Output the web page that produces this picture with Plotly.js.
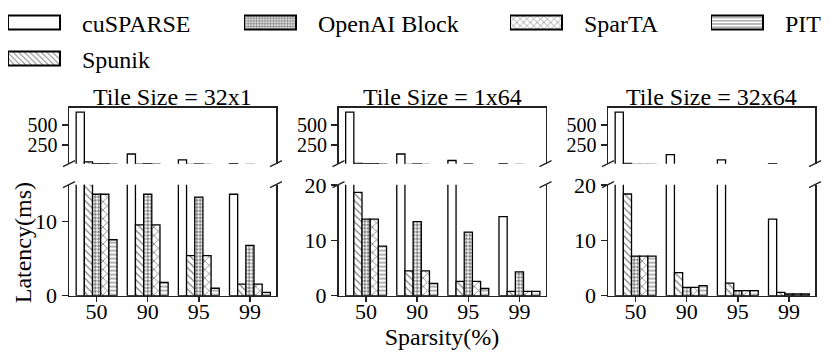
<!DOCTYPE html>
<html>
<head>
<meta charset="utf-8">
<script src="https://cdn.plot.ly/plotly-3.0.1.min.js"></script>
<style>
  html, body { margin: 0; padding: 0; background: #fff; }
  #chart { width: 830px; height: 353px; }
</style>
</head>
<body>
<div id="chart"></div>
<script>
// x軸のカテゴリ（スパース率）
const sparsity = ["50", "90", "95", "99"];
// パネル（タイルサイズ）
const tileSizes = ["32x1", "1x64", "32x64"];

// 各系列の値（パネル順: 32x1, 1x64, 32x64）
const cuSPARSE = [
  [665, 137, 62, 13.7],
  [665, 137, 55, 14.3],
  [665, 130, 62, 13.85]
];
const spunik = [
  [38, 9.55, 5.4, 1.55],
  [18.7, 4.48, 2.57, 0.78],
  [18.4, 4.18, 2.27, 0.6]
];
const openAIBlock = [
  [13.7, 13.7, 13.3, 6.8],
  [13.85, 13.4, 11.5, 4.3],
  [7.17, 1.5, 0.9, 0.3]
];
const sparTA = [
  [13.7, 9.55, 5.4, 1.55],
  [13.85, 4.48, 2.57, 0.78],
  [7.17, 1.5, 0.9, 0.3]
];
const pit = [
  [7.55, 1.78, 1.0, 0.45],
  [8.96, 2.2, 1.3, 0.78],
  [7.17, 1.8, 0.9, 0.3]
];

// 縦軸の範囲（上段は共通、下段はパネルごと）
const topRange = [15, 720];
const bottomMax = [15, 20.1, 20.1];

const W = 830, H = 353;
const FONT = "'Liberation Serif', 'Times New Roman', serif";
const LINE = "#222";

// 系列ごとの見た目（グループ内の並び順）
const series = [
  { name: "cuSPARSE", values: cuSPARSE, legend: "legend", pattern: { shape: "" } },
  { name: "Spunik", values: spunik, legend: "legend5", pattern: { shape: "\\", size: 5, solidity: 0.25 } },
  { name: "OpenAI Block", values: openAIBlock, legend: "legend2", pattern: { shape: ".", size: 3.5, solidity: 0.55 } },
  { name: "SparTA", values: sparTA, legend: "legend3", pattern: { shape: "x", size: 6, solidity: 0.25 } },
  { name: "PIT", values: pit, legend: "legend4", pattern: { shape: "-", size: 4, solidity: 0.3 } }
];

// パネルの位置（ピクセル）
const colPx = [[69, 276], [338.5, 545.5], [608, 815]];
const topPx = [105, 161.5];
const botPx = [182.7, 295];

function xd(p) { return [p[0] / W, p[1] / W]; }
function yd(p) { return [1 - p[1] / H, 1 - p[0] / H]; }

const data = [];
series.forEach((s) => {
  for (let p = 0; p < 3; p++) {
    [p + 1, p + 4].forEach((k, j) => {
      data.push({
        type: "bar",
        x: sparsity,
        y: s.values[p],
        name: s.name,
        xaxis: "x" + (k === 1 ? "" : k),
        yaxis: "y" + (k === 1 ? "" : k),
        legend: s.legend,
        showlegend: p === 0 && j === 0,
        marker: {
          color: "#fff",
          line: { color: "#000", width: 1.3 },
          pattern: Object.assign({ fgcolor: "#000", bgcolor: "#fff", fillmode: "overlay" }, s.pattern)
        },
        hoverinfo: "skip"
      });
    });
  }
});

const tickFont = { family: FONT, size: 22, color: "#000" };
const topTickFont = { family: FONT, size: 20, color: "#000" };

const layout = {
  width: W,
  height: H,
  margin: { l: 0, r: 0, t: 0, b: 0 },
  paper_bgcolor: "#fff",
  plot_bgcolor: "rgba(0,0,0,0)",
  barmode: "group",
  bargap: 0.2,
  bargroupgap: 0,
  font: { family: FONT, size: 24, color: "#000" },
  annotations: [],
  shapes: []
};

for (let p = 0; p < 3; p++) {
  const t = p + 1, b = p + 4;
  const tx = "xaxis" + (t === 1 ? "" : t), ty = "yaxis" + (t === 1 ? "" : t);
  const bx = "xaxis" + b, by = "yaxis" + b;
  const tRef = t === 1 ? "" : t;

  layout[tx] = {
    domain: xd(colPx[p]), anchor: "y" + tRef, type: "category", range: [-0.54, 3.51],
    side: "top", showline: true, linecolor: LINE, linewidth: 1.5,
    ticks: "", showticklabels: false, showgrid: false, zeroline: false
  };
  layout[ty] = {
    domain: yd(topPx), anchor: "x" + tRef, range: topRange, tickvals: [250, 500],
    ticks: "outside", ticklen: 6, tickwidth: 1.5, tickcolor: LINE, tickfont: topTickFont,
    showline: true, mirror: true, linecolor: LINE, linewidth: 1.5,
    showgrid: false, zeroline: false
  };
  layout[bx] = {
    domain: xd(colPx[p]), anchor: "y" + b, type: "category", range: [-0.54, 3.51],
    showline: true, linecolor: LINE, linewidth: 1.5,
    ticks: "outside", ticklen: 5, tickwidth: 1.5, tickcolor: LINE, tickfont: tickFont,
    ticklabelstandoff: -10,
    showgrid: false, zeroline: false
  };
  layout[by] = {
    domain: yd(botPx), anchor: "x" + b, range: [0, bottomMax[p]], dtick: 10,
    ticks: "outside", ticklen: 6, tickwidth: 1.5, tickcolor: LINE, tickfont: tickFont,
    showline: true, mirror: true, linecolor: LINE, linewidth: 1.5,
    showgrid: false, zeroline: false
  };

  // パネルタイトル
  layout.annotations.push({
    text: "Tile Size = " + tileSizes[p],
    xref: "x" + tRef + " domain", yref: "y" + tRef + " domain",
    x: 0.5, y: 1, xanchor: "center", yanchor: "bottom", yshift: -4,
    showarrow: false, font: { family: FONT, size: 24, color: "#000" }
  });

  // 軸の切れ目マーク
  const marks = [
    ["x" + tRef, "y" + tRef, 0, 0], ["x" + tRef, "y" + tRef, 1, 0],
    ["x" + b, "y" + b, 0, 1], ["x" + b, "y" + b, 1, 1]
  ];
  marks.forEach((m) => {
    layout.shapes.push({
      type: "line", xref: m[0] + " domain", yref: m[1] + " domain",
      xsizemode: "pixel", ysizemode: "pixel", xanchor: m[2], yanchor: m[3],
      x0: -6, x1: 6, y0: -3, y1: 3,
      line: { color: LINE, width: 1.5 }
    });
  });
}

layout.xaxis5.title = { text: "Sparsity(%)", font: { family: FONT, size: 24, color: "#000" }, standoff: 3 };

layout.annotations.push({
  text: "Latency(ms)", xref: "paper", yref: "paper",
  x: 23 / W, y: 1 - 242 / H, xanchor: "center", yanchor: "middle",
  textangle: -90, showarrow: false, font: { family: FONT, size: 24, color: "#000" }
});

// 凡例（項目ごとに別の凡例を配置）
const legendPos = { legend: [8, 19], legend2: [244, 19], legend3: [510, 19], legend4: [711, 19], legend5: [8, 55.5] };
Object.keys(legendPos).forEach((key) => {
  layout[key] = {
    xref: "paper", yref: "paper",
    x: legendPos[key][0] / W, y: 1 - legendPos[key][1] / H,
    xanchor: "left", yanchor: "middle",
    bgcolor: "rgba(0,0,0,0)", borderwidth: 0,
    itemwidth: 64, itemclick: false, itemdoubleclick: false,
    font: { family: FONT, size: 24, color: "#000" }
  };
});

// 凡例の記号を横長の箱にする
function widenLegendSymbols() {
  document.querySelectorAll("g.legendpoints path").forEach((el) => {
    el.setAttribute("d", "M0,-7H52V7H0Z");
    el.setAttribute("transform", "");
    el.style.strokeWidth = "2px";
  });
}

const gd = document.getElementById("chart");
Plotly.newPlot(gd, data, layout, { staticPlot: true }).then(() => {
  widenLegendSymbols();
  gd.on("plotly_afterplot", widenLegendSymbols);
});
</script>
</body>
</html>
